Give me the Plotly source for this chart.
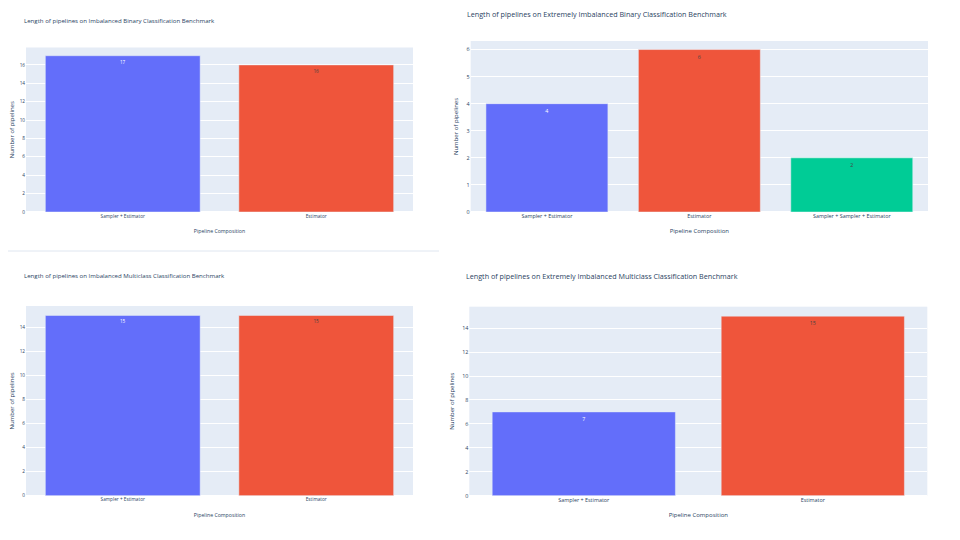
import plotly.graph_objects as go

# datos de cada benchmark
titulos = [
    "Length of pipelines on Imbalanced Binary Classification Benchmark",
    "Length of pipelines on Extremely Imbalanced Binary Classification Benchmark",
    "Length of pipelines on Imbalanced Multiclass Classification Benchmark",
    "Length of pipelines on Extremely Imbalanced Multiclass Classification Benchmark",
]
binary_cats = ["Sampler + Estimator", "Estimator"]
binary_counts = [17, 16]
ext_binary_cats = ["Sampler + Estimator", "Estimator", "Sampler + Sampler + Estimator"]
ext_binary_counts = [4, 6, 2]
multi_cats = ["Sampler + Estimator", "Estimator"]
multi_counts = [15, 15]
ext_multi_cats = ["Sampler + Estimator", "Estimator"]
ext_multi_counts = [7, 15]

paneles = [
    (binary_cats, binary_counts),
    (ext_binary_cats, ext_binary_counts),
    (multi_cats, multi_counts),
    (ext_multi_cats, ext_multi_counts),
]

W, H = 960, 540
OFF = 8  # margen del body de la pagina
# cajas en pixeles de la captura (x0, x1, y_top, y_bottom), titulo (x, y)
cajas = [
    (26, 413, 47.5, 212),
    (470.7, 928, 41, 212),
    (26, 413, 306, 495.7),
    (469.3, 927.3, 306.7, 495.7),
]
pos_titulo = [(22, 20.5), (465, 14), (22, 275), (464, 275.7)]
dticks = [2, 1, 2, 2]
# los paneles de la izquierda estan mas comprimidos
titulo_size = [6.1, 7.2, 6.1, 7.2]
tick_size = [4.7, 5.4, 4.7, 5.4]
axtitle_size = [5.2, 6, 5.2, 6]
x_standoff = [11, 9, 11, 9]
y_standoff = [4, 7, 4, 7]

colores = ["#636EFA", "#EF553B", "#00CC96"]


def px_x(v):
    return (v - OFF) / W


def px_y(v):
    return 1 - (v - OFF) / H


fig = go.Figure()

for i, (cats, counts) in enumerate(paneles):
    n = "" if i == 0 else str(i + 1)
    for j, (c, v) in enumerate(zip(cats, counts)):
        fig.add_trace(go.Bar(
            x=[c], y=[v], text=[v], textposition="auto",
            textfont=dict(size=tick_size[i]),
            marker_color=colores[j], xaxis="x" + n, yaxis="y" + n,
            showlegend=False,
        ))
    x0, x1, yt, yb = cajas[i]
    fig.update_layout({
        "xaxis" + n: dict(
            domain=[px_x(x0), px_x(x1)], anchor="y" + n,
            categoryorder="array", categoryarray=cats,
            tickfont=dict(size=tick_size[i]),
            title=dict(text="Pipeline Composition", font=dict(size=axtitle_size[i]),
                       standoff=x_standoff[i]),
            automargin=False,
        ),
        "yaxis" + n: dict(
            domain=[px_y(yb), px_y(yt)], anchor="x" + n,
            dtick=dticks[i],
            tickfont=dict(size=tick_size[i]),
            title=dict(text="Number of pipelines", font=dict(size=6),
                       standoff=y_standoff[i]),
            automargin=False,
        ),
    })
    tx, ty = pos_titulo[i]
    fig.add_annotation(
        x=px_x(tx), y=px_y(ty), xref="paper", yref="paper",
        xanchor="left", yanchor="middle", showarrow=False,
        text=titulos[i], font=dict(size=titulo_size[i], color="#2a3f5f"),
    )

# lineas de separacion de la captura
fig.add_shape(type="line", xref="paper", yref="paper",
              x0=0, x1=px_x(439), y0=px_y(251), y1=px_y(251),
              line=dict(color="#dfe6f0", width=1))
fig.add_shape(type="line", xref="paper", yref="paper",
              x0=px_x(959), x1=px_x(959), y0=0, y1=px_y(252),
              line=dict(color="#dfe6f0", width=1.5))

fig.update_layout(
    width=W, height=H,
    margin=dict(l=0, r=0, t=0, b=0),
    font=dict(family="Open Sans", color="#2a3f5f"),
    paper_bgcolor="white",
    plot_bgcolor="#E5ECF6",
    bargap=0.2,
)

fig.write_html("out.html")
